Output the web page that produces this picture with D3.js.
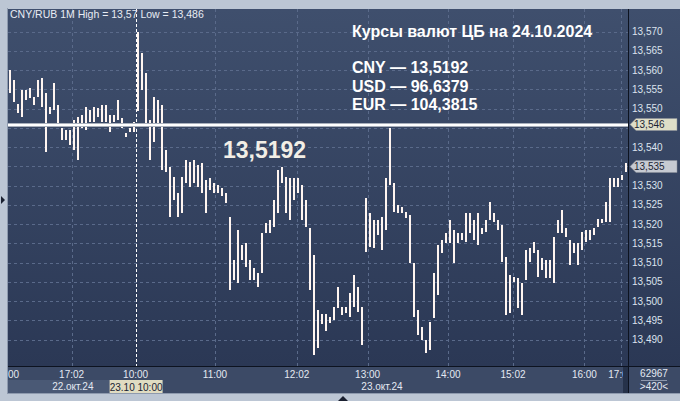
<!DOCTYPE html>
<html>
<head>
<meta charset="utf-8">
<script src="https://cdn.jsdelivr.net/npm/d3@7"></script>
<style>
  html, body { margin: 0; padding: 0; background: #bcc6d4; }
  svg { display: block; }
</style>
</head>
<body>
<div id="chart"></div>
<script>
// one bar per slot (about 3 minutes each)
const HIGHS = [
  13.5600, 13.5574, 13.5512, 13.5548, 13.5548, 13.5553, 13.5530, 13.5574, 13.5579, 13.5540,
  13.5504, 13.5566, 13.5509, 13.5449, 13.5444, 13.5444, 13.5470, 13.5478, 13.5483, 13.5504,
  13.5496, 13.5504, 13.5501, 13.5509, 13.5509, 13.5483, 13.5483, 13.5522, 13.5475, 13.5436,
  13.5449, 13.5465, 13.5700, 13.5644, 13.5592, 13.5470, 13.5530, 13.5522, 13.5509, 13.5392,
  13.5348, 13.5322, 13.5280, 13.5322, 13.5366, 13.5361, 13.5366, 13.5353, 13.5358, 13.5314,
  13.5319, 13.5306, 13.5301, 13.5293, 13.5280, 13.5218, 13.5106, 13.5184, 13.5145, 13.5150,
  13.5106, 13.5085, 13.5072, 13.5176, 13.5202, 13.5210, 13.5262, 13.5340, 13.5348, 13.5322,
  13.5319, 13.5319, 13.5319, 13.5301, 13.5262, 13.5189, 13.5119, 13.4976, 13.4968, 13.4968,
  13.4960, 13.4984, 13.5036, 13.4984, 13.4984, 13.5020, 13.5067, 13.5036, 13.4984, 13.5267,
  13.5228, 13.5210, 13.5210, 13.5218, 13.5319, 13.5449, 13.5306, 13.5249, 13.5244, 13.5231,
  13.5223, 13.5098, 13.4976, 13.4932, 13.4898, 13.4945, 13.5072, 13.5145, 13.5158, 13.5176,
  13.5210, 13.5184, 13.5176, 13.5176, 13.5228, 13.5228, 13.5210, 13.5228, 13.5189, 13.5210,
  13.5257, 13.5228, 13.5210, 13.5197, 13.5114, 13.5067, 13.5064, 13.5059, 13.5046, 13.5132,
  13.5137, 13.5153, 13.5132, 13.5111, 13.5106, 13.5106, 13.5166, 13.5210, 13.5236, 13.5189,
  13.5158, 13.5150, 13.5150, 13.5179, 13.5184, 13.5184, 13.5189, 13.5213, 13.5213, 13.5257,
  13.5319, 13.5319, 13.5319, 13.5327, 13.5358
]
const LOWS = [
  13.5540, 13.5517, 13.5488, 13.5478, 13.5522, 13.5527, 13.5509, 13.5530, 13.5504, 13.5387,
  13.5486, 13.5496, 13.5457, 13.5418, 13.5418, 13.5405, 13.5392, 13.5366, 13.5449, 13.5444,
  13.5465, 13.5465, 13.5478, 13.5465, 13.5465, 13.5439, 13.5465, 13.5470, 13.5449, 13.5426,
  13.5439, 13.5439, 13.5496, 13.5548, 13.5452, 13.5366, 13.5413, 13.5462, 13.5340, 13.5335,
  13.5218, 13.5262, 13.5218, 13.5228, 13.5306, 13.5296, 13.5306, 13.5296, 13.5280, 13.5228,
  13.5288, 13.5280, 13.5280, 13.5272, 13.5254, 13.5028, 13.5054, 13.5046, 13.5106, 13.5088,
  13.5054, 13.5054, 13.5036, 13.5072, 13.5176, 13.5176, 13.5192, 13.5228, 13.5306, 13.5228,
  13.5210, 13.5262, 13.5280, 13.5210, 13.5192, 13.5028, 13.4860, 13.4877, 13.4942, 13.4924,
  13.4945, 13.4950, 13.4981, 13.4963, 13.4968, 13.4958, 13.4984, 13.4971, 13.4885, 13.5127,
  13.5140, 13.5137, 13.5171, 13.5132, 13.5184, 13.5301, 13.5231, 13.5228, 13.5228, 13.5215,
  13.5098, 13.4958, 13.4911, 13.4898, 13.4864, 13.4872, 13.4955, 13.5015, 13.5124, 13.5150,
  13.5150, 13.5098, 13.5150, 13.5158, 13.5153, 13.5176, 13.5158, 13.5145, 13.5174, 13.5179,
  13.5210, 13.5205, 13.5184, 13.5101, 13.4963, 13.4968, 13.5051, 13.4981, 13.4963, 13.5054,
  13.5101, 13.5124, 13.5062, 13.5080, 13.5059, 13.5059, 13.5046, 13.5176, 13.5176, 13.5166,
  13.5093, 13.5124, 13.5093, 13.5132, 13.5153, 13.5158, 13.5171, 13.5192, 13.5202, 13.5205,
  13.5205, 13.5296, 13.5296, 13.5314, 13.5335
]

const YTICKS = [13.490, 13.495, 13.500, 13.505, 13.510, 13.515, 13.520, 13.525,
  13.530, 13.535, 13.540, 13.545, 13.550, 13.555, 13.560, 13.565, 13.570]
// the first label is the tail of a clipped "16:00"
const XTICK_LABELS = ['00', '17:02', '10:00', '11:00', '12:02', '13:00', '14:00', '15:02', '16:00', '17:0']
const XTICK_SLOTS = [0.9, 15.4, 31.4, 51.25, 71.7, 89.4, 109.5, 125.75, 143.6, 152.0]
const GRID_SLOTS = [15.4, 51.25, 71.7, 89.4, 109.5, 125.75, 143.6, 152.75]
const DATE_LABELS = ['22.окт.24', '23.окт.24']
const DATE_SLOTS = [15.7, 93]

const HEADER = 'CNY/RUB 1M High = 13,57 Low = 13,486'
const CROSS_SLOT = 31.4
const CROSS_PRICE = 13.546
const CROSS_TIME = '23.10 10:00'
const LAST_PRICE = 13.535
const TITLE = 'Курсы валют ЦБ на 24.10.2024'
const RATE_CODES = ['CNY', 'USD', 'EUR']
const RATE_VALUES = ['13,5192', '96,6379', '104,3815']
const BIG_VALUE = '13,5192'
const BAR_COUNT = '62967'
const BAR_ZOOM = '>420<'

const fmt = v => d3.format('.3f')(v).replace('.', ',')

const createsvg = (sel) => {
  return d3.select(sel).append('svg')
    .attr('width', 680)
    .attr('height', 401)
}

const drawframe = (svg, plot) => {
  /* light outer frame, dark panels, gradient for the plot */
  const defs = svg.append('defs')
  const grad = defs.append('linearGradient')
    .attr('id', 'bg').attr('x1', 0).attr('y1', 0).attr('x2', 0).attr('y2', 1)
  grad.append('stop').attr('offset', '0%').attr('stop-color', '#3f4f6d')
  grad.append('stop').attr('offset', '100%').attr('stop-color', '#2b3855')
  defs.append('clipPath').attr('id', 'plotclip')
    .append('rect')
    .attr('x', plot.x0).attr('y', plot.y0)
    .attr('width', plot.x1 - plot.x0).attr('height', plot.y1 - plot.y0)

  svg.append('rect').attr('width', 680).attr('height', 401).attr('fill', '#bcc6d4')
  svg.append('line').attr('x1', 7.5).attr('x2', 7.5).attr('y1', 8).attr('y2', 393)
    .attr('stroke', '#8e9aae')
  svg.append('line').attr('x1', 7).attr('x2', 680).attr('y1', 393.5).attr('y2', 393.5)
    .attr('stroke', '#8e9aae')

  svg.append('rect')
    .attr('x', plot.x0).attr('y', plot.y0)
    .attr('width', 680 - plot.x0).attr('height', plot.y1 - plot.y0)
    .attr('fill', 'url(#bg)')
  // bottom strip
  svg.append('rect')
    .attr('x', plot.x0).attr('y', plot.y1)
    .attr('width', 680 - plot.x0).attr('height', 393 - plot.y1)
    .attr('fill', '#3c4a66')
  svg.append('rect')
    .attr('x', plot.x0).attr('y', 380)
    .attr('width', 102).attr('height', 13)
    .attr('fill', '#4a5975')
  svg.append('line')
    .attr('x1', plot.x1 + 0.5).attr('x2', plot.x1 + 0.5)
    .attr('y1', plot.y0).attr('y2', 393)
    .attr('stroke', '#0d1320')
  svg.append('line')
    .attr('x1', plot.x0).attr('x2', 680)
    .attr('y1', plot.y1 + 0.5).attr('y2', plot.y1 + 0.5)
    .attr('stroke', '#0d1320')

  // little arrows on the frame
  svg.append('path').attr('d', 'M1,196 L5,200 L1,204 Z').attr('fill', '#1a2030')
  svg.append('path').attr('d', 'M338,401 L343,396 L348,401 Z').attr('fill', '#1a2030')
}

const drawgrid = (svg, plot, x, y) => {
  const g = svg.append('g').attr('clip-path', 'url(#plotclip)')
  g.selectAll('line.h')
    .data(YTICKS)
    .enter().append('line')
    .attr('class', 'h')
    .attr('x1', plot.x0).attr('x2', plot.x1)
    .attr('y1', d => Math.round(y(d)) + 0.5).attr('y2', d => Math.round(y(d)) + 0.5)
    .attr('stroke', '#5a6a8a').attr('stroke-dasharray', '3,3')
  g.selectAll('line.v')
    .data(GRID_SLOTS)
    .enter().append('line')
    .attr('class', 'v')
    .attr('x1', d => Math.round(x(d)) + 0.5).attr('x2', d => Math.round(x(d)) + 0.5)
    .attr('y1', plot.y0).attr('y2', plot.y1)
    .attr('stroke', '#5a6a8a').attr('stroke-dasharray', '3,3')
}

const drawbars = (svg, x, y) => {
  const g = svg.append('g').attr('clip-path', 'url(#plotclip)')
  g.selectAll('rect')
    .data(HIGHS.map((h, i) => ({ i, h, l: LOWS[i] })))
    .enter().append('rect')
    .attr('x', d => Math.round(x(d.i)) - 1)
    .attr('width', 2)
    .attr('y', d => Math.round(y(d.h)))
    .attr('height', d => Math.max(1, Math.round(y(d.l) - y(d.h))))
    .attr('fill', '#fff5f0')
    .attr('shape-rendering', 'crispEdges')
}

const drawcross = (svg, plot, x, y) => {
  const cx = Math.round(x(CROSS_SLOT)) + 0.5
  const cy = Math.round(y(CROSS_PRICE))
  svg.append('line')
    .attr('x1', cx).attr('x2', cx).attr('y1', plot.y0).attr('y2', plot.y1)
    .attr('stroke', '#ffffff').attr('stroke-dasharray', '3,2')
  svg.append('rect')
    .attr('x', plot.x0).attr('y', cy - 1).attr('width', plot.x1 - plot.x0).attr('height', 4)
    .attr('fill', '#a9b0bc')
  svg.append('rect')
    .attr('x', plot.x0).attr('y', cy).attr('width', plot.x1 - plot.x0).attr('height', 2)
    .attr('fill', '#ffffff')
}

const drawyaxis = (svg, plot, y) => {
  const g = svg.append('g').attr('font-family', 'Liberation Sans, Arial, sans-serif')
    .attr('font-size', 10)
  // tick labels hidden under the two price markers are left out
  const hidden = [fmt(CROSS_PRICE - 0.001), fmt(LAST_PRICE)]
  g.selectAll('text')
    .data(YTICKS.filter(d => hidden.indexOf(fmt(d)) === -1))
    .enter().append('text')
    .attr('x', plot.x1 + 4)
    .attr('y', d => y(d))
    .attr('dy', '0.35em')
    .attr('fill', '#dce3ee')
    .text(d => fmt(d))

  const marker = (price, fill) => {
    const my = Math.round(y(price)) + 0.5
    g.append('path')
      .attr('d', `M${plot.x1 + 2},${my} L${plot.x1 + 8},${my - 6} L677,${my - 6} L677,${my + 6} L${plot.x1 + 8},${my + 6} Z`)
      .attr('fill', fill).attr('stroke', '#8a8f98').attr('stroke-width', 0.5)
    g.append('text')
      .attr('x', plot.x1 + 6).attr('y', my).attr('dy', '0.35em')
      .attr('fill', '#1b2333')
      .text(fmt(price))
  }
  marker(CROSS_PRICE, '#dedec8')
  marker(LAST_PRICE, '#c6cad2')
}

const drawxaxis = (svg, plot, x) => {
  const g = svg.append('g').attr('font-family', 'Liberation Sans, Arial, sans-serif')
    .attr('font-size', 10).attr('text-anchor', 'middle')
  g.selectAll('text.t')
    .data(XTICK_LABELS)
    .enter().append('text')
    .attr('class', 't')
    .attr('x', (d, i) => x(XTICK_SLOTS[i]))
    .attr('y', 378)
    .attr('fill', '#e4e9f2')
    .text(d => d)
  // scroller end covering the last label
  g.append('rect')
    .attr('x', 623).attr('y', plot.y1 + 1)
    .attr('width', 5).attr('height', 26)
    .attr('fill', '#26324a')
  g.selectAll('text.d')
    .data(DATE_LABELS)
    .enter().append('text')
    .attr('class', 'd')
    .attr('x', (d, i) => x(DATE_SLOTS[i]))
    .attr('y', 390)
    .attr('fill', '#e4e9f2')
    .text(d => d)

  const cx = x(CROSS_SLOT)
  g.append('rect')
    .attr('x', cx - 26).attr('y', 380).attr('width', 53).attr('height', 13)
    .attr('fill', '#e0dcc2')
  g.append('text')
    .attr('x', cx + 0.5).attr('y', 390.5)
    .attr('fill', '#1b2333')
    .text(CROSS_TIME)

  // counter box on the right
  g.append('text').attr('x', 654).attr('y', 377).attr('fill', '#e4e9f2').text(BAR_COUNT)
  g.append('line').attr('x1', 641).attr('x2', 667).attr('y1', 380.5).attr('y2', 380.5)
    .attr('stroke', '#8d98ad')
  g.append('text').attr('x', 654).attr('y', 390).attr('fill', '#e4e9f2').text(BAR_ZOOM)
}

const drawtexts = (svg) => {
  svg.append('text')
    .attr('x', 10).attr('y', 18)
    .attr('font-family', 'Liberation Sans, Arial, sans-serif')
    .attr('font-size', 10.5)
    .attr('fill', '#e8ecf4')
    .text(HEADER)

  const g = svg.append('g')
    .attr('font-family', 'Liberation Sans, Arial, sans-serif')
    .attr('font-weight', 'bold')
    .attr('fill', '#ffffff')
  g.append('text').attr('x', 352).attr('y', 37).attr('font-size', 16).text(TITLE)
  g.selectAll('text.r')
    .data(RATE_CODES)
    .enter().append('text')
    .attr('class', 'r')
    .attr('x', 352)
    .attr('y', (d, i) => 73 + i * 18.5)
    .attr('font-size', 16)
    .text((d, i) => `${d} — ${RATE_VALUES[i]}`)

  g.append('text')
    .attr('x', 223).attr('y', 158)
    .attr('font-size', 23)
    .attr('fill', '#f2eee6')
    .text(BIG_VALUE)
}

const plot = { x0: 8, y0: 9, x1: 628, y1: 366 }
const xscale = d3.scaleLinear().domain([0, HIGHS.length - 1]).range([10, 626])
const yscale = d3.scaleLinear().domain([13.49, 13.57]).range([339.7, 31.7])

const svgelement = createsvg('#chart')
drawframe(svgelement, plot)
drawgrid(svgelement, plot, xscale, yscale)
drawbars(svgelement, xscale, yscale)
drawcross(svgelement, plot, xscale, yscale)
drawyaxis(svgelement, plot, yscale)
drawxaxis(svgelement, plot, xscale)
drawtexts(svgelement)
</script>
</body>
</html>
